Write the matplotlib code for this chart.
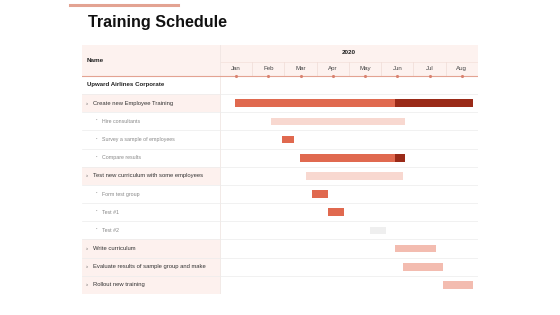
import matplotlib
matplotlib.use("Agg")
import matplotlib.pyplot as plt
from matplotlib.patches import Rectangle

plt.rcParams['font.family'] = ['Liberation Sans', 'DejaVu Sans']

title = "Training Schedule"
year = "2020"
months = ["Jan", "Feb", "Mar", "Apr", "May", "Jun", "Jul", "Aug"]

row_labels = ["Upward Airlines Corporate",
              "Create new Employee Training", "Hire consultants",
              "Survey a sample of employees", "Compare results",
              "Test new curriculum with some employees", "Form test group",
              "Test #1", "Test #2", "Write curriculum",
              "Evaluate results of sample group and make", "Rollout new training"]
row_kinds = ["company", "group", "sub", "sub", "sub", "group", "sub", "sub", "sub",
             "group", "group", "group"]

# bars in month units (0 = start of Jan)
bar_rows = [1, 1, 2, 3, 4, 4, 5, 6, 7, 8, 9, 10, 11]
bar_start = [0.46, 5.42, 1.58, 1.92, 2.48, 5.42, 2.66, 2.85, 3.34, 4.64, 5.42, 5.67, 6.93]
bar_end = [5.42, 7.83, 5.73, 2.29, 5.42, 5.73, 5.67, 3.34, 3.84, 5.14, 6.69, 6.90, 7.83]
bar_kind = ["main", "done", "light", "main", "main", "done", "light", "main", "main",
            "grey", "pink", "pink", "pink"]

colors = {"main": "#e0694f", "done": "#9a2a18", "light": "#f8d8d0",
          "pink": "#f3bcb0", "grey": "#efefef"}
header_bg = "#fdf2ef"
group_bg = "#fdf1ee"
grid_c = "#ececec"
accent = "#e3a392"

fig = plt.figure(figsize=(5.6, 3.15), dpi=100)
fig.patch.set_facecolor("white")

fig.add_artist(plt.Line2D([70/560, 178/560], [1-5/315, 1-5/315], color=accent, lw=2.2,
                          transform=fig.transFigure))
fig.text(88/560, 1-22/315, title, fontsize=11.6, fontweight="bold", va="center",
         ha="left", color="#111111")

ax = fig.add_axes([82/560, 21/315, 396/560, 249/315])
px = 1/32.27
name_w = 138*px
n = len(row_labels)
ax.set_xlim(-name_w, len(months))
ax.set_ylim(n - 0.5, -0.5 - 1.70)
ax.axis("off")

ax.add_patch(Rectangle((-name_w, -0.5 - 1.70), name_w + len(months), 1.70,
                       facecolor=header_bg, edgecolor="none", zorder=0))
ax.text(-name_w + 5*px, -0.5 - 0.85, "Name", fontsize=4.6, fontweight="bold",
        va="center", ha="left", color="#222222")
ax.text(len(months)/2, -0.5 - 1.28, year, fontsize=4.6, fontweight="bold",
        va="center", ha="center", color="#222222")
ax.plot([0, len(months)], [-0.5 - 0.78, -0.5 - 0.78], color="#f3e0da", lw=0.5, zorder=1)
for i, m in enumerate(months):
    ax.text(i + 0.5, -0.5 - 0.40, m, fontsize=4.4, va="center", ha="center", color="#444444")
    if i > 0:
        ax.plot([i, i], [-0.5 - 0.78, -0.5], color="#f0dcd6", lw=0.5, zorder=1)
ax.plot([-name_w, len(months)], [-0.5, -0.5], color=accent, lw=0.8, zorder=2)
ax.scatter([i + 0.5 for i in range(len(months))], [-0.5] * len(months), s=5,
           color="#d9826f", zorder=3, linewidths=0)
ax.plot([0, 0], [-0.5 - 1.70, n - 0.5], color="#f0e6e3", lw=0.6, zorder=1)

for i, (lab, kind) in enumerate(zip(row_labels, row_kinds)):
    if kind == "group":
        ax.add_patch(Rectangle((-name_w, i - 0.5), name_w, 1, facecolor=group_bg,
                               edgecolor="none", zorder=0))
    if i < n - 1:
        ax.plot([-name_w, len(months)], [i + 0.5, i + 0.5], color=grid_c, lw=0.5, zorder=1)
    if kind == "company":
        ax.text(-name_w + 5*px, i, lab, fontsize=4.4, fontweight="bold", va="center",
                ha="left", color="#222222")
    elif kind == "group":
        ax.text(-name_w + 4*px, i, "›", fontsize=4.2, va="center", ha="left", color="#555555")
        ax.text(-name_w + 11*px, i, lab, fontsize=4.2, va="center", ha="left", color="#333333")
    else:
        ax.text(-name_w + 14*px, i, "•", fontsize=3.0, va="center", ha="left", color="#999999")
        ax.text(-name_w + 20*px, i, lab, fontsize=3.8, va="center", ha="left", color="#888888")

for r, s, e, k in zip(bar_rows, bar_start, bar_end, bar_kind):
    ax.barh(r, e - s, left=s, height=0.42, color=colors[k], edgecolor="none", zorder=4)

fig.savefig("out.png", dpi=100, facecolor="white")
